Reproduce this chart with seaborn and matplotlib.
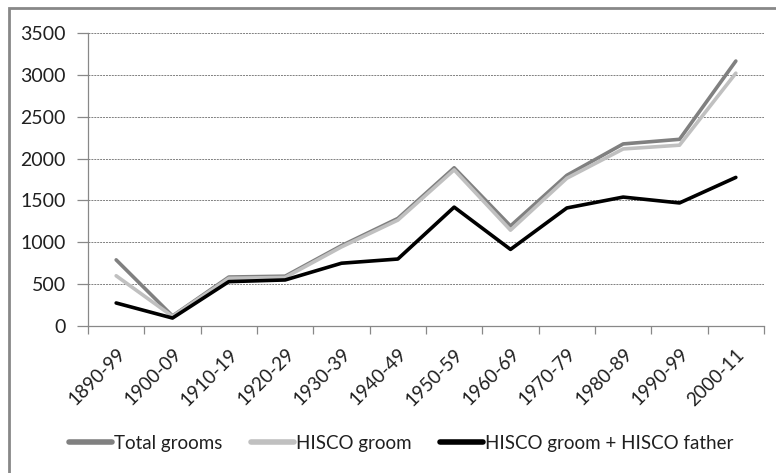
import matplotlib
matplotlib.use("Agg")
import matplotlib.pyplot as plt
from matplotlib.patches import Rectangle
from matplotlib.ticker import FixedLocator, NullFormatter
import seaborn as sns
import pandas as pd

periods = ["1890-99", "1900-09", "1910-19", "1920-29", "1930-39", "1940-49",
           "1950-59", "1960-69", "1970-79", "1980-89", "1990-99", "2000-11"]
total_grooms = [790, 120, 585, 595, 960, 1285, 1890, 1195, 1800, 2175, 2230, 3165]
hisco_groom = [600, 115, 570, 580, 945, 1265, 1865, 1145, 1765, 2115, 2160, 3020]
hisco_groom_father = [275, 95, 530, 550, 750, 800, 1420, 915, 1410, 1540, 1470, 1775]

series_names = ["Total grooms", "HISCO groom", "HISCO groom + HISCO father"]
series_colors = ["#808080", "#c0c0c0", "#000000"]

df = pd.DataFrame({
    "idx": list(range(len(periods))) * 3,
    "value": total_grooms + hisco_groom + hisco_groom_father,
    "series": [series_names[0]] * len(periods)
              + [series_names[1]] * len(periods)
              + [series_names[2]] * len(periods),
})

sns.set_theme(style="white")
plt.rcParams["font.family"] = ["Lato", "DejaVu Sans"]

fig = plt.figure(figsize=(7.76, 4.73), dpi=100)
ax = fig.add_axes([88 / 776, 1 - 326 / 473, (764 - 88) / 776, (326 - 33) / 473])

sns.lineplot(data=df, x="idx", y="value", hue="series",
             palette=dict(zip(series_names, series_colors)),
             linewidth=2.6, ax=ax, legend=False)

ax.set_xlim(-0.5, len(periods) - 0.5)
ax.set_ylim(0, 3500)
ax.set_yticks(range(0, 3501, 500))
ax.yaxis.grid(True, color="#808080", linestyle=(0, (2, 1)), linewidth=0.7)
ax.xaxis.grid(False)
ax.set_axisbelow(True)

ax.set_xticks(range(len(periods)))
ax.set_xticklabels(periods, rotation=45, ha="right", rotation_mode="anchor")
ax.xaxis.set_minor_locator(FixedLocator([i - 0.5 for i in range(len(periods) + 1)]))
ax.xaxis.set_minor_formatter(NullFormatter())
ax.tick_params(axis="x", which="major", length=0, pad=14, labelsize=13.5, colors="#202020")
ax.tick_params(axis="x", which="minor", length=6, width=0.9, color="#888888", bottom=True)
ax.tick_params(axis="y", which="major", length=8, width=0.9, color="#888888",
               labelsize=14, labelcolor="#202020", left=True, pad=8)
ax.set_xlabel("")
ax.set_ylabel("")

for side in ["top", "right"]:
    ax.spines[side].set_visible(False)
for side in ["left", "bottom"]:
    ax.spines[side].set_color("#888888")
    ax.spines[side].set_linewidth(0.9)

handles = [plt.Line2D([], [], color=c, linewidth=4) for c in series_colors]
fig.legend(handles, series_names, loc="center", bbox_to_anchor=(401 / 776, 1 - 443 / 473),
           ncol=3, frameon=False, fontsize=13.5, handlelength=2.3,
           handletextpad=0.12, columnspacing=1.5, labelcolor="#202020")

fig.patches.append(Rectangle((8.5 / 776, -0.05), 1.1, 1 - 8.5 / 473 + 0.05,
                             transform=fig.transFigure, fill=False,
                             edgecolor="#888888", linewidth=2))

fig.savefig("out.png", dpi=100)
